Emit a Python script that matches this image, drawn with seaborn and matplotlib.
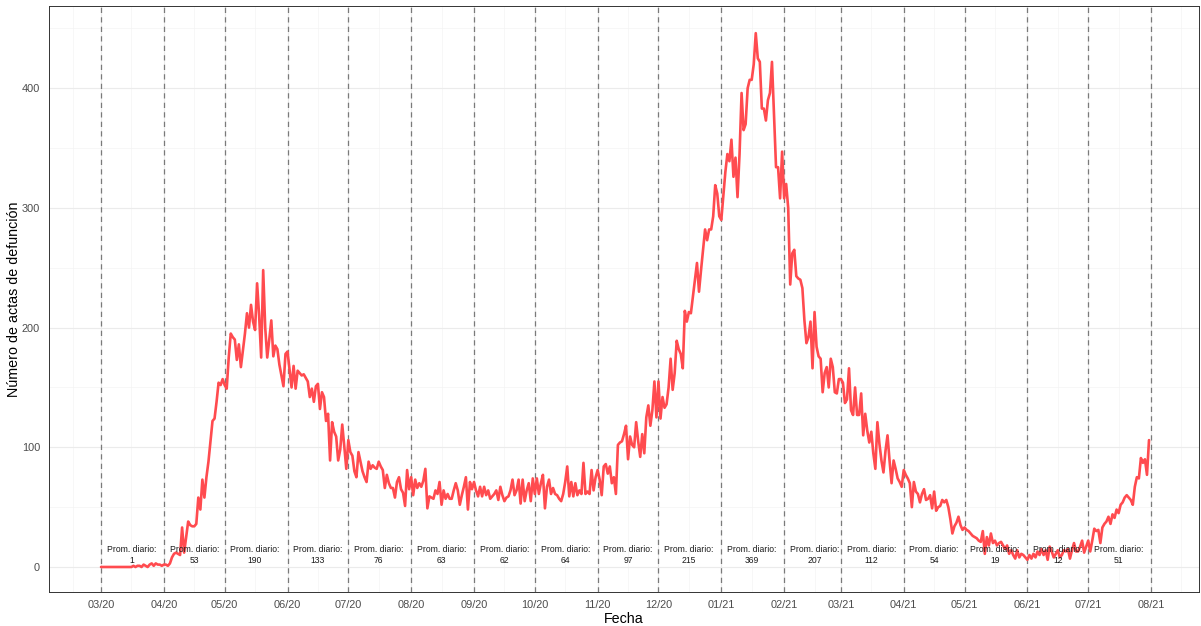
import numpy as np
import pandas as pd
import matplotlib
matplotlib.use('Agg')
import matplotlib.pyplot as plt
import matplotlib.dates as mdates
import seaborn as sns

# defunciones diarias por mes
mar20 = [0, 0, 0, 0, 0, 0, 0, 0, 0, 0, 0, 0, 0, 0, 0, 0, 1, 0, 1, 1, 0, 2, 1, 0, 2, 3, 1, 3, 2, 2, 1]
abr20 = [2, 2, 1, 3, 8, 11, 12, 11, 10, 33, 12, 25, 38, 35, 34, 34, 36, 58, 48, 73,
         58, 75, 88, 105, 122, 124, 138, 154, 152, 157]
may20 = [152, 149, 175, 195, 192, 190, 173, 186, 167, 181, 195, 212, 200, 219, 205, 198,
         237, 210, 175, 248, 200, 175, 190, 206, 176, 185, 182, 169, 160, 151, 178]
jun20 = [180, 165, 150, 168, 149, 164, 162, 160, 161, 158, 155, 142, 149, 138, 151, 153,
         132, 146, 142, 122, 128, 89, 121, 113, 109, 89, 98, 119, 101, 82]
jul20 = [106, 96, 93, 80, 75, 96, 88, 80, 75, 71, 88, 82, 85, 83, 82, 88, 84, 81, 66, 77,
         70, 66, 66, 58, 71, 75, 65, 62, 51, 81, 65]
ago20 = [75, 60, 73, 66, 70, 67, 72, 82, 49, 59, 58, 57, 64, 61, 71, 52, 64, 57, 61, 57,
         57, 64, 70, 64, 52, 60, 67, 75, 48, 71, 65]
sep20 = [71, 64, 59, 67, 59, 67, 60, 64, 57, 59, 61, 64, 56, 67, 60, 55, 58, 59, 64, 73,
         60, 64, 73, 53, 73, 55, 64, 70, 55, 74]
oct20 = [61, 74, 61, 70, 77, 49, 67, 73, 61, 66, 61, 60, 57, 55, 61, 71, 84, 59, 71, 59,
         70, 60, 64, 61, 87, 61, 63, 61, 81, 64, 75]
nov20 = [81, 73, 60, 84, 86, 78, 84, 70, 75, 61, 102, 104, 105, 111, 118, 90, 109, 102, 100, 121,
         105, 92, 111, 95, 125, 135, 118, 131, 155, 125]
dic20 = [155, 124, 142, 133, 136, 150, 174, 148, 162, 189, 182, 178, 166, 214, 205, 213,
         212, 226, 240, 254, 230, 248, 265, 282, 273, 282, 282, 293, 319, 312, 293]
ene21 = [290, 310, 330, 345, 339, 357, 326, 342, 309, 345, 396, 365, 370, 400, 407, 407,
         420, 446, 425, 422, 383, 383, 373, 390, 396, 422, 379, 334, 334, 308, 347]
feb21 = [308, 320, 300, 236, 262, 265, 243, 241, 240, 233, 206, 187, 192, 205, 166, 213,
         184, 176, 174, 146, 162, 167, 150, 174, 167, 146, 145, 157]
mar21 = [157, 154, 137, 140, 166, 131, 127, 150, 127, 127, 145, 110, 128, 114, 104, 113,
         95, 82, 121, 103, 89, 79, 97, 110, 89, 70, 89, 82, 74, 71, 67]
abr21 = [81, 77, 74, 70, 50, 71, 63, 61, 54, 61, 65, 56, 57, 60, 49, 63, 47, 50, 51, 56,
         54, 56, 50, 40, 28, 34, 37, 42, 35, 31]
may21 = [33, 31, 30, 28, 26, 25, 24, 22, 21, 30, 11, 25, 18, 28, 20, 22, 18, 20, 21, 18,
         15, 18, 11, 14, 10, 7, 14, 8, 11, 10, 8]
jun21 = [6, 10, 7, 11, 8, 13, 10, 15, 10, 14, 6, 17, 13, 8, 11, 14, 8, 10, 14, 13,
         15, 7, 14, 20, 13, 13, 17, 22, 12, 17]
jul21 = [22, 13, 22, 32, 30, 31, 20, 33, 36, 38, 42, 36, 44, 41, 48, 45, 52, 54, 58, 60,
         58, 56, 52, 67, 75, 74, 91, 87, 90, 77, 106]

meses = ['2020-03', '2020-04', '2020-05', '2020-06', '2020-07', '2020-08', '2020-09',
         '2020-10', '2020-11', '2020-12', '2021-01', '2021-02', '2021-03', '2021-04',
         '2021-05', '2021-06', '2021-07']
promedios = [1, 53, 190, 133, 76, 63, 62, 64, 97, 215, 369, 207, 112, 54, 19, 12, 51]

series = [mar20, abr20, may20, jun20, jul20, ago20, sep20, oct20, nov20, dic20,
          ene21, feb21, mar21, abr21, may21, jun21, jul21]

frames = []
for mes, vals in zip(meses, series):
    fechas = pd.date_range(mes + '-01', periods=len(vals), freq='D')
    frames.append(pd.DataFrame({'Fecha': fechas, 'n': vals}))
df = pd.concat(frames, ignore_index=True)

sns.set_style('white')
plt.rcParams['font.family'] = ['Liberation Sans', 'DejaVu Sans']

fig = plt.figure(figsize=(12.01, 6.26), dpi=100)
ax = fig.add_axes([0.0404, 0.0543, 0.958, 0.9369])

inicio = pd.Timestamp('2020-03-01')
ax.set_xlim(inicio - pd.Timedelta(days=25.9), inicio + pd.Timedelta(days=541.7))
ax.set_ylim(-20.9, 469.1)

# rejilla estilo theme_bw
ax.xaxis.set_major_locator(mdates.MonthLocator())
ax.xaxis.set_major_formatter(mdates.DateFormatter('%m/%y'))
ax.xaxis.set_minor_locator(mdates.MonthLocator(bymonthday=16))
ax.set_yticks([0, 100, 200, 300, 400])
ax.set_yticks([50, 150, 250, 350, 450], minor=True)
ax.grid(which='major', color='#EBEBEB', linewidth=0.8)
ax.grid(which='minor', color='#F3F3F3', linewidth=0.45)
ax.set_axisbelow(True)

for mes in meses + ['2021-08']:
    ax.axvline(pd.Timestamp(mes + '-01'), color='#7a7a7a', linewidth=0.9,
               linestyle=(0, (4.2, 3.4)), zorder=1)

sns.lineplot(data=df, x='Fecha', y='n', ax=ax, color='#FF4B4F', linewidth=1.9,
             estimator=None, zorder=3)

for mes, prom in zip(meses, promedios):
    ax.text(pd.Timestamp(mes + '-16'), 10, f'Prom. diario:\n{prom}', ha='center',
            va='center', fontsize=6.2, color='#1a1a1a', linespacing=1.35, zorder=4)

for s in ax.spines.values():
    s.set_color('#333333')
    s.set_linewidth(0.7)

ax.tick_params(axis='both', which='major', length=3.5, width=0.6, color='#333333',
               labelsize=7.9, labelcolor='#4D4D4D', pad=2.5)
ax.tick_params(axis='both', which='minor', length=0)
ax.set_xlabel('Fecha', fontsize=10.3, color='black', labelpad=1)
ax.set_ylabel('Número de actas de defunción', fontsize=10.3, color='black')
ax.yaxis.set_label_coords(-0.0235, 0.5)

fig.savefig('out.png', dpi=100)
